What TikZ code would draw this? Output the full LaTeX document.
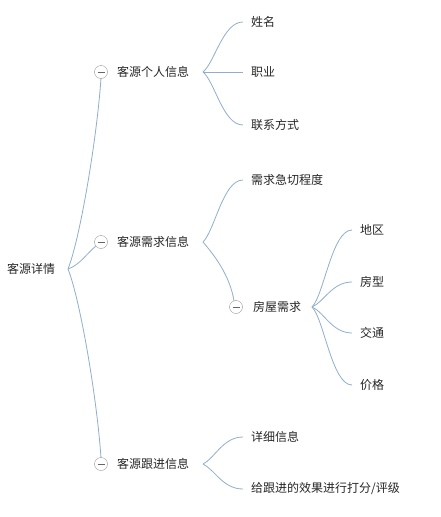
\documentclass[tikz,border=0pt]{standalone}
\usepackage{fontspec}
\setmainfont{Noto Sans CJK SC}
\usetikzlibrary{calc}
\definecolor{edgeBlue}{RGB}{143,174,204}
\definecolor{foldGray}{RGB}{150,150,150}

\begin{document}
\begin{tikzpicture}[x=1pt, y=-1pt,
    textStyle/.style={anchor=west, inner sep=0pt, font=\fontsize{12}{14}\selectfont, text=black!85},
    leafStyle/.style={textStyle, inner xsep=8pt},
    foldStyle/.style={circle, draw=foldGray, fill=white, minimum size=13pt, inner sep=0pt,
        path picture={\draw[black!60] ([xshift=3pt]path picture bounding box.west) -- ([xshift=-3pt]path picture bounding box.east);}},
    edgeStyle/.style={draw=edgeBlue, line width=0.8pt}]
    \useasboundingbox (0,0) rectangle (440,517);

    % Root
    \node[textStyle] (root) at (7,269) {客源详情};
    \coordinate (rootOut) at (68,269);

    % Layer 1
    \node[textStyle] (person) at (117,72)  {客源个人信息};
    \node[textStyle] (demand) at (117,242) {客源需求信息};
    \node[textStyle] (follow) at (117,464) {客源跟进信息};
    \coordinate (personOut) at (203,72);
    \coordinate (demandOut) at (203,242);
    \coordinate (followOut) at (203,464);

    % Layer 2
    \node[leafStyle] (name)    at (243,22)  {姓名};
    \node[leafStyle] (job)     at (243,72)  {职业};
    \node[leafStyle] (contact) at (243,125) {联系方式};
    \node[leafStyle] (urgency) at (243,180) {需求急切程度};
    \node[textStyle] (house)   at (253,307) {房屋需求};
    \node[leafStyle] (detail)  at (243,437) {详细信息};
    \node[leafStyle] (rating)  at (243,489) {给跟进的效果进行打分/评级};
    \coordinate (houseOut) at (312,307);

    % Layer 3
    \node[leafStyle] (area)    at (352,230) {地区};
    \node[leafStyle] (layout)  at (352,282) {房型};
    \node[leafStyle] (traffic) at (352,333) {交通};
    \node[leafStyle] (price)   at (352,385) {价格};

    % Edges
    \draw[edgeStyle] (rootOut) .. controls +(12,-30) and +(-4,60) .. (101,78);
    \draw[edgeStyle] (rootOut) .. controls +(12,-4) and +(-8,6) .. (96,246);
    \draw[edgeStyle] (rootOut) .. controls +(12,30) and +(-4,-60) .. (101,458);

    \draw[edgeStyle] (personOut) .. controls +(12,-10) and +(-20,0) .. (name.west);
    \draw[edgeStyle] (personOut) -- (job.west);
    \draw[edgeStyle] (personOut) .. controls +(12,10) and +(-20,0) .. (contact.west);

    \draw[edgeStyle] (demandOut) .. controls +(12,-12) and +(-20,0) .. (urgency.west);
    \draw[edgeStyle] (demandOut) .. controls +(12,14) and +(-4,-25) .. (234,301);

    \draw[edgeStyle] (houseOut) .. controls +(12,-12) and +(-20,0) .. (area.west);
    \draw[edgeStyle] (houseOut) .. controls +(12,-5) and +(-20,0) .. (layout.west);
    \draw[edgeStyle] (houseOut) .. controls +(12,5) and +(-20,0) .. (traffic.west);
    \draw[edgeStyle] (houseOut) .. controls +(12,12) and +(-20,0) .. (price.west);

    \draw[edgeStyle] (followOut) .. controls +(12,-6) and +(-20,0) .. (detail.west);
    \draw[edgeStyle] (followOut) .. controls +(12,6) and +(-20,0) .. (rating.west);

    % Fold buttons
    \node[foldStyle] (personFold) at (101,72)  {};
    \node[foldStyle] (demandFold) at (101,242) {};
    \node[foldStyle] (followFold) at (101,464) {};
    \node[foldStyle] (houseFold)  at (236,307) {};
\end{tikzpicture}
\end{document}
